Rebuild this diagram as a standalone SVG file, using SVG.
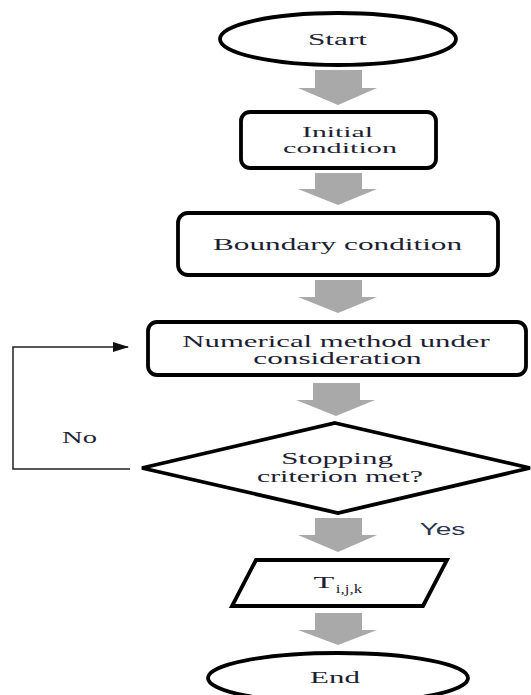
<svg xmlns="http://www.w3.org/2000/svg" width="531" height="695" viewBox="0 0 531 695">
<style>
.shape{fill:#fff;stroke:#000;stroke-width:3.8}
.t{font-family:"Liberation Serif",serif;font-size:17px;fill:#1e1e33;text-anchor:middle}
.s{font-family:"Liberation Sans",sans-serif;font-size:17px;fill:#2a3550;text-anchor:middle}
.sm{font-size:14.5px}
.sub{font-size:13px}
.ga{fill:#a9a9a9}
.loop{fill:none;stroke:#222;stroke-width:1.5}
</style>
<defs>
<marker id="ah" markerWidth="16" markerHeight="10" refX="15" refY="5" orient="auto" markerUnits="userSpaceOnUse">
<path d="M0,0 L16,5 L0,10 Z" fill="#111"/>
</marker>
</defs>
<rect width="531" height="695" fill="#fff"/>
<g id="connectors">
<path class="ga" d="M315,70 H362 V88 H377 L338,105 L298,88 H315 Z"/>
<path class="ga" d="M315,173 H362 V189 H377 L338,205 L298,189 H315 Z"/>
<path class="ga" d="M315,280 H362 V297 H377 L338,313 L298,297 H315 Z"/>
<path class="ga" d="M313,383 H360 V400 H375 L336,416 L296,400 H313 Z"/>
<path class="ga" d="M315,518 H362 V535 H377 L338,552 L298,535 H315 Z"/>
<path class="ga" d="M315,613 H362 V630 H377 L338,645 L298,630 H315 Z"/>
<path class="loop" d="M130,469 H13 V347 H128" marker-end="url(#ah)"/>
<text class="t" transform="translate(79.5,443) scale(1.68,1)">No</text>
<text class="s" transform="translate(442.5,535) scale(1.65,1)">Yes</text>
</g>
<g id="start">
<ellipse class="shape" cx="338" cy="39" rx="118" ry="26"/>
<text class="t" transform="translate(337.5,45) scale(1.84,1)">Start</text>
</g>
<g id="initial">
<rect class="shape" x="241" y="112" width="195" height="56" rx="9"/>
<text class="t sm" transform="translate(337.5,136.5) scale(2.05,1)">Initial</text>
<text class="t sm" transform="translate(340,153) scale(2.08,1)">condition</text>
</g>
<g id="boundary">
<rect class="shape" x="178" y="213" width="320" height="62" rx="10"/>
<text class="t" transform="translate(337.5,250) scale(1.84,1)">Boundary condition</text>
</g>
<g id="numerical">
<rect class="shape" x="148" y="322" width="378" height="53" rx="9"/>
<text class="t" transform="translate(336,347) scale(1.81,1)">Numerical method under</text>
<text class="t" transform="translate(337.5,364) scale(1.84,1)">consideration</text>
</g>
<g id="decision">
<polygon class="shape" points="335,423 530,468 338,513 142,468"/>
<text class="t" transform="translate(337,464) scale(1.82,1)">Stopping</text>
<text class="t" transform="translate(340,482) scale(1.75,1)">criterion met?</text>
</g>
<g id="output">
<polygon class="shape" points="256,560 447,560 423,606 232,606"/>
<text class="t" transform="translate(324,588) scale(2.0,1)">T</text>
<text class="t sub" transform="translate(349,593) scale(1.3,1)">i,j,k</text>
</g>
<g id="end">
<ellipse class="shape" cx="338" cy="678" rx="130" ry="25"/>
<text class="t" transform="translate(335,683) scale(1.82,1)">End</text>
</g>
</svg>
